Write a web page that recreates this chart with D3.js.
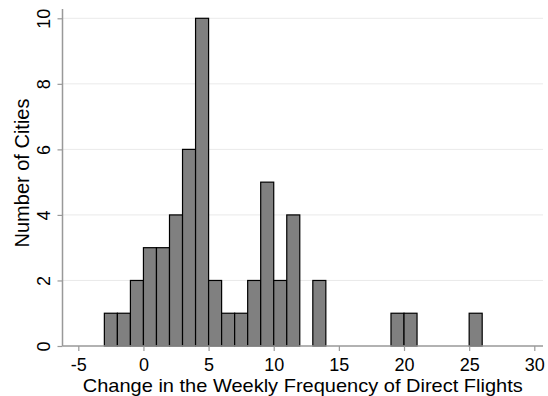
<!DOCTYPE html>
<html>
<head>
<meta charset="utf-8">
<script src="https://cdn.jsdelivr.net/npm/d3@7"></script>
<style>
  body { margin: 0; background: #fff; }
  text { font-family: "Liberation Sans", Arial, Helvetica, sans-serif; fill: #000; }
</style>
</head>
<body>
<div id="chart"></div>
<script>
// histogram bins (left edge, width 1) and counts
const binStarts = [-3, -2, -1, 0, 1, 2, 3, 4, 5, 6, 7, 8, 9, 10, 11, 13, 19, 20, 25];
const binCounts = [1, 1, 2, 3, 3, 4, 6, 10, 2, 1, 1, 2, 5, 2, 4, 2, 1, 1, 1];
const binWidth = 1;
const xTicks = [-5, 0, 5, 10, 15, 20, 25, 30];
const yTicks = [0, 2, 4, 6, 8, 10];

let w = 548;
let h = 396;

let svg = d3.select("#chart")
            .append("svg")
            .attr("width", w)
            .attr("height", h);

//scales, fitted to the reference pixel positions
let x = d3.scaleLinear().domain([-5, 30]).range([78.3, 534.3]);
let y = d3.scaleLinear().domain([0, 10]).range([346, 18.3]);

let plotLeft = 62.5, plotRight = 543, plotTop = 9;

// gridlines
svg.selectAll(".grid")
    .data(yTicks.filter(d => d > 0))
    .enter()
    .append("line")
    .attr("x1", plotLeft)
    .attr("x2", plotRight)
    .attr("y1", d => y(d))
    .attr("y2", d => y(d))
    .attr("stroke", "#eaeaea")
    .attr("stroke-width", 1);

// bars
let bins = binStarts.map((s, i) => ({x0: s, x1: s + binWidth, count: binCounts[i]}));
svg.selectAll(".bar")
    .data(bins)
    .enter()
    .append("rect")
    .attr("x", d => x(d.x0))
    .attr("y", d => y(d.count))
    .attr("width", d => x(d.x1) - x(d.x0))
    .attr("height", d => y(0) - y(d.count))
    .attr("fill", "#808080")
    .attr("stroke", "#000")
    .attr("stroke-width", 1.2);

// x axis
let xAxis = svg.append("g")
    .attr("transform", `translate(0,${y(0)})`)
    .call(d3.axisBottom(x).tickValues(xTicks).tickFormat(d => String(d))
          .tickSize(5).tickPadding(7).tickSizeOuter(0));
xAxis.select(".domain").remove();
xAxis.append("line")
    .attr("x1", plotLeft).attr("x2", plotRight)
    .attr("y1", 0).attr("y2", 0)
    .attr("stroke", "#999").attr("stroke-width", 1.5);
xAxis.selectAll(".tick line").attr("stroke", "#999").attr("stroke-width", 1.2);
xAxis.selectAll(".tick text")
    .style("font-size", "18px")
    .attr("font-family", null);

// y axis
let yAxis = svg.append("g")
    .attr("transform", `translate(${plotLeft},0)`)
    .call(d3.axisLeft(y).tickValues(yTicks).tickSize(5).tickSizeOuter(0));
yAxis.select(".domain").remove();
yAxis.append("line")
    .attr("x1", 0).attr("x2", 0)
    .attr("y1", plotTop).attr("y2", y(0))
    .attr("stroke", "#999").attr("stroke-width", 1.5);
yAxis.selectAll(".tick line").attr("stroke", "#999").attr("stroke-width", 1.2);
yAxis.selectAll(".tick text")
    .attr("x", null)
    .attr("dy", null)
    .attr("transform", "translate(-13,0) rotate(-90)")
    .attr("text-anchor", "middle")
    .style("font-size", "18px")
    .attr("font-family", null);

// axis titles
svg.append("text")
    .attr("x", (plotLeft + plotRight) / 2)
    .attr("y", 391.5)
    .attr("text-anchor", "middle")
    .attr("textLength", 440)
    .attr("lengthAdjust", "spacingAndGlyphs")
    .style("font-size", "18.5px")
    .text("Change in the Weekly Frequency of Direct Flights");

svg.append("text")
    .attr("transform", "translate(29,173) rotate(-90)")
    .attr("text-anchor", "middle")
    .style("font-size", "20px")
    .text("Number of Cities");
</script>
</body>
</html>
